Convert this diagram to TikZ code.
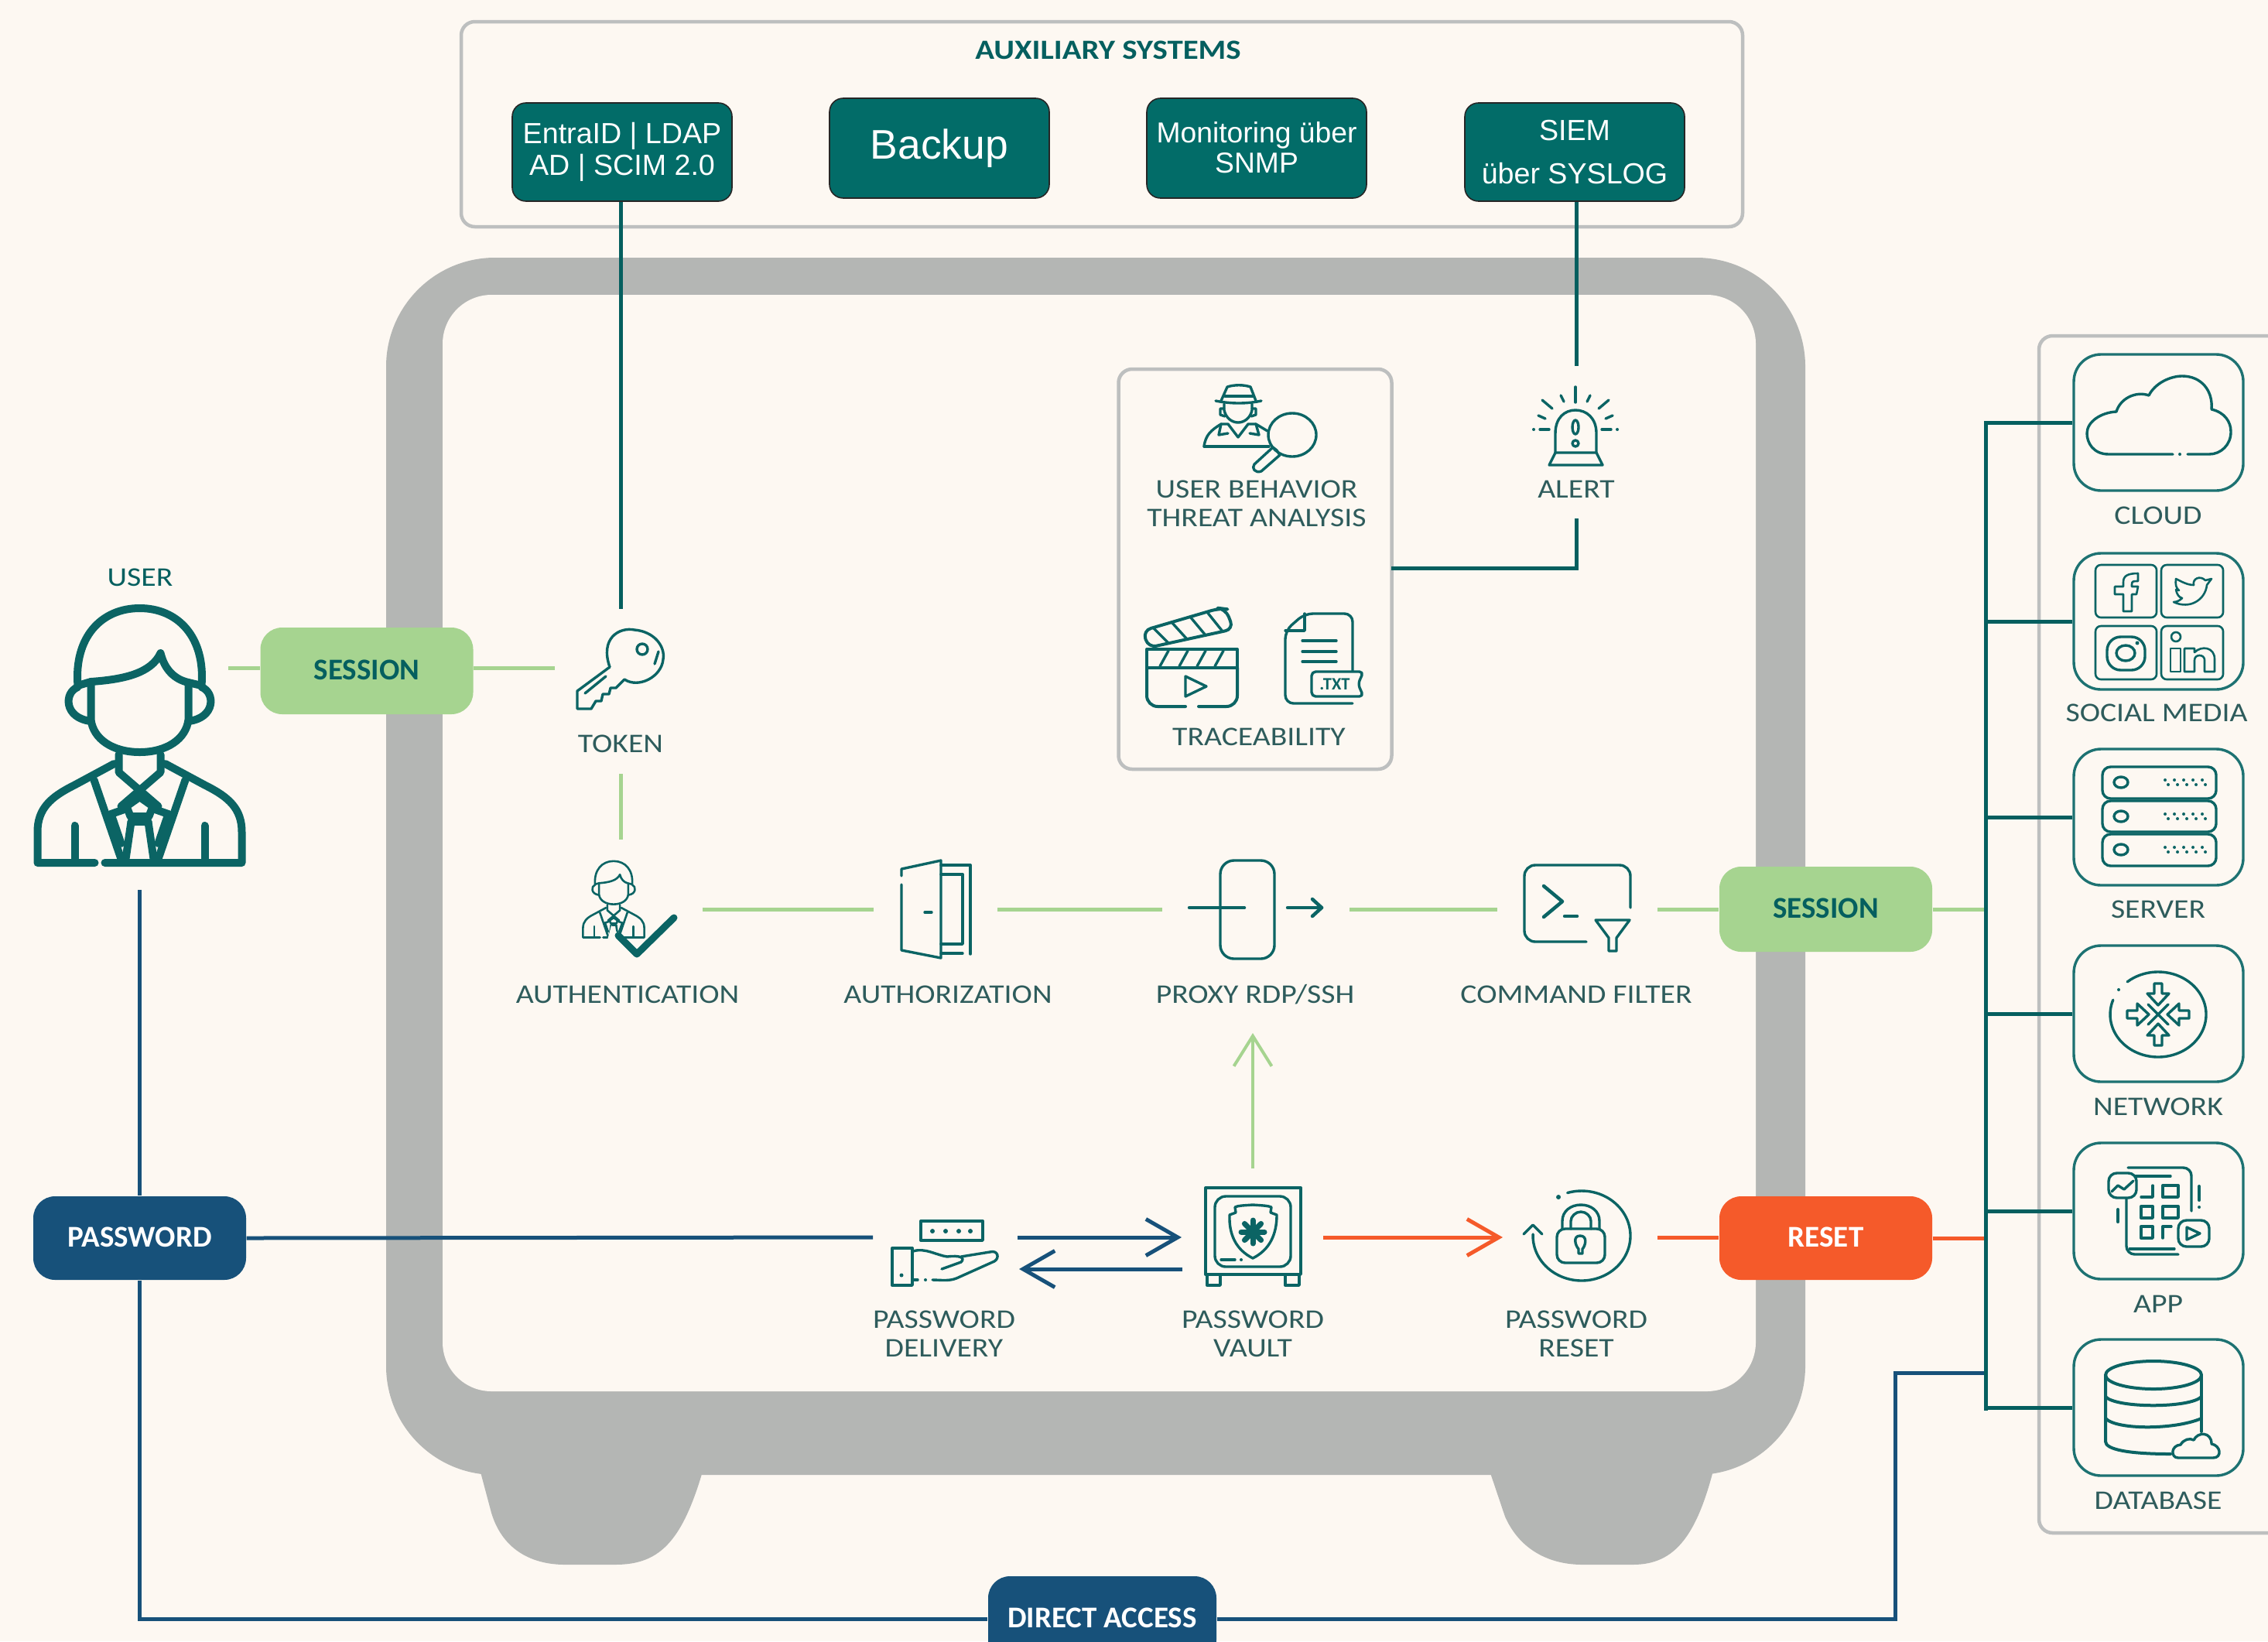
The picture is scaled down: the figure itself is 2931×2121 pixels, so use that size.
\documentclass[tikz,border=0pt]{standalone}
\usepackage{fontspec}
\setmainfont{Carlito}
\newfontfamily\arialf{Liberation Sans}
\newfontfamily\lblf[FakeStretch=1.14]{Carlito}
\usetikzlibrary{arrows.meta,calc}
\definecolor{bgc}{HTML}{FDF8F2}
\definecolor{safec}{HTML}{B4B6B4}
\definecolor{tealc}{HTML}{055F5F}
\definecolor{btnc}{HTML}{026C68}
\definecolor{iconc}{HTML}{0B6464}
\definecolor{boxc}{HTML}{1D7272}
\definecolor{greenc}{HTML}{A6D490}
\definecolor{navyc}{HTML}{17517A}
\definecolor{orangec}{HTML}{F55A2A}
\definecolor{labelc}{HTML}{2E5C5C}
\definecolor{frameC}{HTML}{BDBFBF}
\newlength\pxu \setlength\pxu{0.01cm}
\newcommand\pilltext[1]{\raisebox{3\pxu}{#1}}
\newcommand\drawperson{%
 \draw (-80,-64) .. controls (-85,-126) and (-50,-164) .. (0,-164) .. controls (50,-164) and (85,-126) .. (80,-64);
 \draw (-80,-64) -- (-63,-69) .. controls (-20,-72) and (15,-80) .. (27,-106) .. controls (32,-85) and (45,-72) .. (63,-68) -- (80,-64);
 \draw (-63,-69) -- (-63,-20) .. controls (-60,5) and (-35,22) .. (0,22) .. controls (35,22) and (60,5) .. (63,-20) -- (63,-68);
 \draw (-80,-62) .. controls (-98,-55) and (-98,-22) .. (-63,-18);
 \draw (80,-62) .. controls (98,-55) and (98,-22) .. (63,-18);
 \draw (-27,25) -- (-27,48) -- (24,92);
 \draw (27,25) -- (27,48) -- (-24,92);
 \draw (-33,37) -- (-85,65) .. controls (-115,80) and (-132,95) .. (-132,125) -- (-132,165) -- (-58,165);
 \draw (-45,165) -- (132,165) -- (132,125) .. controls (132,95) and (115,80) .. (85,65) -- (33,37);
 \draw (-59,58) -- (-24,160);
 \draw (59,58) -- (24,160);
 \draw (-84,117) -- (-84,160);
 \draw (84,117) -- (84,160);
 \draw (-17,92) -- (0,80) -- (17,92) -- (12,105) -- (-12,105) -- cycle;
 \draw (-37,102) -- (-17,95);
 \draw (37,102) -- (17,95);
 \draw (-37,102) -- (-24,140);
 \draw (37,102) -- (24,140);
 \draw (-11,112) -- (-18,160);
 \draw (11,112) -- (18,160);
 \draw (-11,112) -- (11,112);
}
\tikzset{
 x=0.01cm,y=-0.01cm,
 conn/.style={line width=5\pxu},
 tealconn/.style={conn,draw=tealc},
 greenconn/.style={conn,draw=greenc},
 navyconn/.style={conn,draw=navyc},
 orangeconn/.style={conn,draw=orangec},
 busline/.style={tealconn,line cap=rect},
 icon/.style={draw=iconc,line width=3.4\pxu,line cap=round,line join=round},
 thin icon/.style={draw=iconc,line width=2.6\pxu,line cap=round,line join=round},
 lbl/.style={inner sep=0,text=labelc,align=center,font=\lblf\fontsize{9.9}{10.5}\selectfont},
 pill/.style={inner sep=0,minimum width=275\pxu,minimum height=112\pxu,rounded corners=8pt,font=\fontsize{11.1}{12}\bfseries\selectfont},
 greenpill/.style={pill,fill=greenc,text=tealc},
 navypill/.style={pill,fill=navyc,text=white,minimum height=108\pxu},
 orangepill/.style={pill,fill=orangec,text=white,minimum height=108\pxu},
 auxbtn/.style={fill=btnc,draw=black!85,line width=1.6\pxu,text=white,inner sep=0,align=center,minimum width=284\pxu,rounded corners=5pt},
 svcbox/.style={draw=boxc,line width=3.4\pxu,inner sep=0,minimum width=219\pxu,minimum height=176\pxu,rounded corners=10pt},
 frame/.style={draw=frameC,line width=4.5\pxu},
 barb/.style={-{Straight Barb[length=11.7pt,width=13.4pt]}},
}
\begin{document}
\begin{tikzpicture}
\useasboundingbox (0,0) rectangle (2931,2121);
\clip (0,0) rectangle (2931,2121);
\fill[bgc] (0,0) rectangle (2931,2121);
% safe
\fill[safec] (615,1880) -- (635,1955) .. controls (650,2005) and (690,2022) .. (730,2022) -- (795,2022) .. controls (855,2022) and (885,1990) .. (914,1880) -- cycle;
\fill[safec] (1918,1880) -- (1945,1960) .. controls (1965,2005) and (2005,2022) .. (2045,2022) -- (2110,2022) .. controls (2165,2022) and (2195,1985) .. (2219,1880) -- cycle;
\fill[safec,rounded corners=40pt] (499,333) rectangle (2333,1906);
\fill[bgc,rounded corners=18pt] (572,381) rectangle (2269,1798);
% aux frame
\node[frame,inner sep=0,minimum width=1656\pxu,minimum height=265\pxu,rounded corners=5pt] (auxframe) at (1424,160.5) {};
\node[inner sep=0,text=tealc,font=\lblf\fontsize{10.2}{12}\bfseries\selectfont] (auxtitle) at (1432,65) {AUXILIARY SYSTEMS};
\node[auxbtn,minimum height=127\pxu,font=\arialf\fontsize{10.7}{11.7}\selectfont] (entra) at (804,196.5) {\raisebox{-2\pxu}{EntraID | LDAP}\\\raisebox{-2\pxu}{AD | SCIM 2.0}};
\node[auxbtn,minimum height=129\pxu,font=\arialf\fontsize{15.2}{17}\selectfont] (backup) at (1214,191.5) {\raisebox{-2\pxu}{Backup}};
\node[auxbtn,minimum height=129\pxu,font=\arialf\fontsize{10.6}{11.2}\selectfont] (monit) at (1624,191.5) {\raisebox{2\pxu}{Monitoring über}\\\raisebox{2\pxu}{SNMP}};
\node[auxbtn,minimum height=127\pxu,font=\arialf\fontsize{10.7}{16}\selectfont] (siem) at (2035,196.5) {SIEM\\über SYSLOG};
% trace frame
\node[frame,inner sep=0,minimum width=353\pxu,minimum height=517\pxu,rounded corners=5pt] (trace) at (1622,735.5) {};
% right frame
\node[frame,inner sep=0,minimum width=400\pxu,minimum height=1547\pxu,rounded corners=5pt] (rframe) at (2835,1207.5) {};
% coordinates
\coordinate (tokenTop) at (802,787);
\coordinate (alertTop) at (2037,473);
\coordinate (userR) at (295,863);
\coordinate (tokenL) at (717,863);
\coordinate (tokenB) at (802,1000);
\coordinate (authT) at (802,1085);
\coordinate (a1) at (908,1175); \coordinate (a2) at (1129,1175);
\coordinate (b1) at (1289,1175); \coordinate (b2) at (1502,1175);
\coordinate (c1) at (1744,1175); \coordinate (c2) at (1935,1175);
\coordinate (d1) at (2142,1175);
\coordinate (upA) at (1619,1510); \coordinate (upB) at (1619,1335);
\coordinate (userB) at (180,1150);
\coordinate (delivL) at (1128,1599);
\coordinate (p1) at (1315,1599); \coordinate (p2) at (1527,1599);
\coordinate (p3) at (1528,1640); \coordinate (p4) at (1317,1640);
\coordinate (o1) at (1710,1599); \coordinate (o2) at (1942,1599);
\coordinate (o3) at (2142,1599);
\coordinate (alertB) at (2037,670);
\coordinate (traceR) at (1798,734);
\coordinate (bus1) at (2566,546); \coordinate (bus6) at (2566,1820);
\coordinate (da) at (2449,1774);
% pills
\node[greenpill] (sessL) at (474,867) {\pilltext{SESSION}};
\node[greenpill,minimum height=110\pxu] (sessR) at (2359.5,1175) {\pilltext{SESSION}};
\node[navypill] (pwd) at (180.5,1600) {\pilltext{PASSWORD}};
\node[orangepill] (reset) at (2359.5,1600) {\pilltext{RESET}};
\node[navypill,minimum width=295\pxu,minimum height=110\pxu] (direct) at (1424.5,2092) {\pilltext{DIRECT ACCESS}};
% labels
\node[lbl,text=tealc] (ulabel) at (181,746) {USER};
\node[lbl] (ltoken) at (802,961) {TOKEN};
\node[lbl] (lauth) at (811,1285) {AUTHENTICATION};
\node[lbl] (lauthz) at (1225,1285) {AUTHORIZATION};
\node[lbl] (lproxy) at (1622,1285) {PROXY RDP/SSH};
\node[lbl] (lcmd) at (2037,1285) {COMMAND FILTER};
\node[lbl] (luba) at (1624,651) {USER BEHAVIOR\\THREAT ANALYSIS};
\node[lbl] (lalert) at (2037,632) {ALERT};
\node[lbl] (ltrace) at (1627,952) {TRACEABILITY};
\node[lbl] (ldeliv) at (1220,1724) {PASSWORD\\DELIVERY};
\node[lbl] (lvault) at (1619,1724) {PASSWORD\\VAULT};
\node[lbl] (lreset) at (2037,1724) {PASSWORD\\RESET};
% service boxes
\node[svcbox] (cloud) at (2789.5,546) {};
\node[svcbox] (social) at (2789.5,803) {};
\node[svcbox] (server) at (2789.5,1056) {};
\node[svcbox] (network) at (2789.5,1310) {};
\node[svcbox] (appbox) at (2789.5,1565) {};
\node[svcbox] (dbbox) at (2789.5,1819) {};
\node[lbl] (lcloud) at (2789,666) {CLOUD};
\node[lbl] (lsocial) at (2787,921) {SOCIAL MEDIA};
\node[lbl] (lserver) at (2789,1175) {SERVER};
\node[lbl] (lnetwork) at (2789,1430) {NETWORK};
\node[lbl] (lapp) at (2789,1685) {APP};
\node[lbl] (ldb) at (2789,1939) {DATABASE};
% connectors
\draw[tealconn] (entra.south -| tokenTop) -- (tokenTop);
\draw[tealconn] (siem.south -| alertTop) -- (alertTop);
\draw[greenconn] (userR) -- (sessL.west |- userR);
\draw[greenconn] (sessL.east |- tokenL) -- (tokenL);
\draw[greenconn] (tokenB) -- (authT);
\draw[greenconn] (a1) -- (a2);
\draw[greenconn] (b1) -- (b2);
\draw[greenconn] (c1) -- (c2);
\draw[greenconn] (d1) -- (d1 -| sessR.west);
\draw[greenconn] (sessR.east |- d1) -- (d1 -| bus1);
\draw[greenc,line width=4\pxu,-{Straight Barb[length=11.1pt,width=13.9pt]}] (upA) -- (upB);
\draw[navyconn] (userB) -- (pwd.north -| userB);
\draw[navyconn] (pwd.east) -- (delivL);
\draw[navyconn,barb] (p1) -- (p2);
\draw[navyconn,barb] (p3) -- (p4);
\draw[navyconn] (pwd.south -| userB) |- (direct.west);
\draw[navyconn] (direct.east) -| (da) -- (da -| bus1);
\draw[orangeconn,barb] (o1) -- (o2);
\draw[orangeconn] (o3) -- (o3 -| reset.west);
\draw[orangeconn] (reset.east) -- (reset.east -| bus1);
\draw[tealconn] (traceR) -| (alertB);
\draw[busline] (bus1) -- (bus6);
\foreach \b in {cloud,social,server,network,appbox,dbbox}{\draw[tealconn] (\b.west) -- (\b.west -| bus1);}
% user icon
\begin{scope}[shift={(180.5,950)},icon,line width=10\pxu]
 \drawperson
\end{scope}
% token key
\draw[icon] (788,862) .. controls (775,825) and (800,810) .. (820,814) .. controls (845,816) and (860,835) .. (857,852) .. controls (855,875) and (825,890) .. (807,878);
\draw[icon] (830,839) circle[radius=7];
\draw[icon] (851,842) -- (846,858);
\draw[icon] (788,862) -- (746,893) -- (746,916) -- (764,916) -- (770,906) -- (777,906) -- (779,897) -- (787,897) -- (789,889) -- (796,889) -- (807,878);
\draw[icon] (756,896) -- (783,874);
% auth person
\begin{scope}[shift={(793,1162)},scale=0.3,thin icon]
 \drawperson
\end{scope}
\fill[bgc] (790,1196) -- (826,1240) -- (880,1182) -- (885,1200) -- (826,1250) -- (785,1215) -- cycle;
\draw[draw=iconc,line width=9\pxu,line cap=round,line join=round] (799,1209) -- (823,1233) -- (871,1186);
% door
\draw[icon] (1165,1143) -- (1165,1228) -- (1216,1238) -- (1216,1112) -- (1165,1123) -- (1165,1132);
\draw[icon] (1216,1118) -- (1254,1118) -- (1254,1233);
\draw[icon] (1216,1130) -- (1244,1130) -- (1244,1220) -- (1216,1220);
\draw[icon] (1216,1232) -- (1244,1232);
\draw[icon] (1195,1179) -- (1204,1179);
% proxy
\draw[icon,rounded corners=5pt] (1577,1112) rectangle (1647,1239);
\draw[icon,line width=4.5\pxu] (1537,1173) -- (1608,1173);
\draw[icon,line width=4.5\pxu] (1664,1173) -- (1708,1173);
\draw[icon,line width=4.5\pxu] (1696,1162) -- (1708,1173) -- (1696,1184);
% command filter
\draw[icon,rounded corners=4pt] (2107,1173) -- (2107,1118) -- (1970,1118) -- (1970,1217) -- (2050,1217);
\draw[icon,line width=4.5\pxu] (1995,1145) -- (2019,1165) -- (1995,1185);
\draw[icon,line width=4.5\pxu] (2022,1184) -- (2038,1184);
\draw[icon] (2062,1189) -- (2106,1189) -- (2089,1212) -- (2089,1229) -- (2079,1229) -- (2079,1212) -- cycle;
% delivery
\draw[icon] (1190,1578) rectangle (1270,1603);
\foreach \x in {1205,1222,1239,1254}{\fill[iconc] (\x,1591) circle[radius=3];}
\draw[icon] (1153,1613) rectangle (1179,1661);
\fill[iconc] (1165,1648) circle[radius=2.5];
\draw[icon] (1180,1617) .. controls (1195,1612) and (1210,1622) .. (1224,1624) .. controls (1240,1622) and (1248,1625) .. (1242,1631) -- (1217,1640);
\draw[icon] (1242,1624) -- (1279,1618) .. controls (1290,1615) and (1292,1626) .. (1285,1630) -- (1236,1652) .. controls (1226,1656) and (1215,1654) .. (1205,1654);
\draw[icon] (1180,1654) -- (1186,1654);
\fill[iconc] (1196,1654) circle[radius=2];
% vault
\draw[icon] (1558,1535) rectangle (1681,1647);
\draw[icon,rounded corners=4pt] (1570,1546) rectangle (1668,1637);
\draw[icon] (1560,1647) rectangle (1577,1661);
\draw[icon] (1661,1647) rectangle (1679,1661);
\draw[icon] (1619,1557) .. controls (1605,1558) and (1600,1558) .. (1596,1560) -- (1597,1567) -- (1589,1570) .. controls (1588,1595) and (1597,1615) .. (1619,1626) .. controls (1641,1615) and (1650,1595) .. (1650,1570) -- (1642,1567) -- (1643,1560) .. controls (1638,1558) and (1633,1558) .. (1619,1557);
\foreach \a in {0,45,...,315}{\draw[draw=iconc,line width=7\pxu,line cap=round] (1619,1592) -- ++(\a:15);}
\draw[icon] (1578,1628) -- (1596,1628);
\fill[iconc] (1604,1628) circle[radius=2];
% password reset icon
\draw[icon] plot[domain=-107:182,samples=60,smooth] ({2044+63*cos(\x)},{1597+58*sin(\x)});
\fill[iconc] (2014,1547) circle[radius=3];
\draw[icon] (1969,1595) -- (1981,1583) -- (1993,1595);
\draw[icon,rounded corners=3pt] (2012,1588) rectangle (2074,1632);
\draw[icon] (2019,1588) -- (2019,1578) .. controls (2019,1565) and (2030,1557) .. (2043,1557) .. controls (2056,1557) and (2067,1565) .. (2067,1578) -- (2067,1588);
\draw[icon] (2030,1588) -- (2030,1578) .. controls (2030,1572) and (2036,1566) .. (2043,1566) .. controls (2050,1566) and (2056,1572) .. (2056,1578) -- (2056,1588);
\draw[icon] (2042,1597) .. controls (2032,1597) and (2036,1610) .. (2040,1614) -- (2040,1620) -- (2045,1620) -- (2045,1614) .. controls (2049,1610) and (2052,1597) .. (2042,1597);
% alert icon
\draw[icon] (2010,585) -- (2010,560) .. controls (2010,540) and (2022,530) .. (2036,530) .. controls (2050,530) and (2063,540) .. (2063,560) -- (2063,585);
\draw[icon] (2010,585) -- (2063,585) -- (2071,601) -- (2002,601) -- cycle;
\draw[icon] (2036,552) ellipse[x radius=4,y radius=9];
\draw[icon] (2036,573) circle[radius=4];
\draw[icon] (2036,500) -- (2036,520);
\draw[icon] (2017,511) -- (2021,519);
\draw[icon] (2055,511) -- (2051,519);
\draw[icon] (1993,517) -- (2006,528);
\draw[icon] (2079,517) -- (2066,528);
\draw[icon] (1988,537) -- (1997,541);
\draw[icon] (2084,537) -- (2075,541);
\draw[icon] (1990,555) -- (2002,555);
\draw[icon] (2082,555) -- (2070,555);
\fill[iconc] (1982,555) circle[radius=2];
\fill[iconc] (2090,555) circle[radius=2];
% detective
\draw[icon] (1571,518) .. controls (1590,522) and (1612,522) .. (1630,518);
\draw[icon] (1578,518) -- (1586,500) .. controls (1595,497) and (1607,497) .. (1616,500) -- (1623,518);
\draw[icon] (1583,512) -- (1620,512);
\draw[icon] (1582,522) -- (1582,530) .. controls (1584,540) and (1592,546) .. (1600,546) .. controls (1608,546) and (1616,540) .. (1618,530) -- (1618,522);
\draw[icon] (1582,528) -- (1577,528) -- (1577,536) -- (1583,538);
\draw[icon] (1618,528) -- (1623,528) -- (1623,536) -- (1617,538);
\draw[icon] (1556,577) .. controls (1558,562) and (1565,556) .. (1578,548) -- (1587,548) -- (1600,565) -- (1613,548) -- (1623,548) -- (1638,557);
\draw[icon] (1556,577) -- (1640,577);
\draw[icon] (1578,548) -- (1575,562) -- (1587,560);
\draw[icon] (1623,548) -- (1627,562) -- (1615,560);
\draw[icon] (1670,562) ellipse[x radius=31,y radius=28];
\draw[icon] (1650,582) -- (1654,588) -- (1630,609) .. controls (1622,612) and (1617,605) .. (1621,600) -- (1645,578) -- (1650,582);
% clapperboard
\draw[icon,line width=4\pxu,rounded corners=3pt] (1484,837) -- (1477,815) -- (1576,786) -- (1584,787) -- (1594,813) -- cycle;
\foreach \a/\aa/\b/\bb in {1490/811/1510/831,1514/804/1534/826,1538/797/1558/821,1560/791/1580/816}{\draw[icon] (\a,\aa) -- (\b,\bb);}
\draw[icon,line width=4\pxu] (1482,839) -- (1599,839) -- (1599,863) -- (1482,863) -- cycle;
\foreach \a in {1510,1535,1558,1581}{\draw[icon] (\a,841) -- (\a-11,861);}
\draw[icon,line width=4\pxu,rounded corners=4pt] (1532,913) -- (1482,913) -- (1482,863);
\draw[icon,line width=4\pxu,rounded corners=4pt] (1549,913) -- (1599,913) -- (1599,863);
\draw[icon] (1532,874) -- (1559,887) -- (1532,900) -- cycle;
% txt doc
\draw[icon,rounded corners=3pt] (1748,868) -- (1748,793) -- (1686,793) -- (1661,815) -- (1661,909) -- (1748,909);
\draw[icon] (1686,793) -- (1686,815) -- (1661,815);
\foreach \y in {828,842,855}{\draw[icon] (1683,\y) -- (1727,\y);}
\draw[icon,fill=bgc,rounded corners=1.5pt] (1695,868) -- (1762,868) -- (1755,884) -- (1762,900) -- (1695,900) -- cycle;
\node[inner sep=0,text=iconc,font=\fontsize{6.4}{7}\bfseries\selectfont] (txtlabel) at (1725,884) {.TXT};
% cloud
\draw[icon] (2808,587) -- (2725,587) .. controls (2705,587) and (2697,572) .. (2697,560) .. controls (2697,545) and (2715,533) .. (2735,532) .. controls (2740,515) and (2760,505) .. (2777,511) .. controls (2785,495) and (2805,486) .. (2820,486) .. controls (2845,486) and (2860,505) .. (2858,529) .. controls (2875,533) and (2883,545) .. (2883,558) .. controls (2883,575) and (2870,587) .. (2855,587) -- (2827,587);
\fill[iconc] (2817,587) circle[radius=2];
% social
\foreach \x/\xx in {2708/2787,2793/2873}{\foreach \y/\yy in {730/798,809/878}{\draw[thin icon,rounded corners=2pt] (\x,\y) rectangle (\xx,\yy);}}
\draw[thin icon] (2744,790) -- (2744,768) -- (2733,768) -- (2733,758) -- (2744,758) -- (2744,752) .. controls (2744,744) and (2750,741) .. (2763,741) -- (2763,751) .. controls (2757,751) and (2755,751) .. (2755,755) -- (2755,758) -- (2763,758) -- (2761,768) -- (2755,768) -- (2755,790) -- cycle;
\draw[thin icon] (2809,778) .. controls (2830,788) and (2850,775) .. (2852,756) -- (2858,748) -- (2850,750) .. controls (2843,743) and (2833,748) .. (2835,756) .. controls (2827,756) and (2820,752) .. (2812,748) .. controls (2811,755) and (2812,760) .. (2816,763) -- (2812,762) .. controls (2813,768) and (2816,772) .. (2820,773) .. controls (2817,776) and (2813,778) .. (2809,778);
\draw[icon,rounded corners=5pt] (2723,823) rectangle (2772,866);
\draw[icon] (2747,844) ellipse[x radius=12,y radius=10];
\fill[iconc] (2762,831) circle[radius=2.5];
\draw[thin icon] (2805,838) rectangle (2818,868);
\draw[thin icon] (2812,823) circle[radius=6];
\draw[thin icon] (2823,868) -- (2823,838) -- (2836,838) -- (2836,843) .. controls (2845,834) and (2862,836) .. (2862,852) -- (2862,868) -- (2849,868) -- (2849,853) .. controls (2849,845) and (2836,845) .. (2836,853) -- (2836,868) -- cycle;
% server
\foreach \a/\b in {991/1032,1035/1075,1078/1119}{\draw[icon,rounded corners=3pt] (2717,\a) rectangle (2864,\b);}
\foreach \y in {1011,1055,1098}{
 \draw[icon] (2741,\y) ellipse[x radius=9,y radius=7];
 \foreach \x in {2798,2810,2822,2834,2846}{\fill[iconc] (\x,\y-3) circle[radius=2];\fill[iconc] (\x+4,\y+3) circle[radius=2];}
}
% network
\draw[icon] plot[domain=-130:200,samples=70,smooth] ({2789+62*cos(\x)},{1311+55*sin(\x)});
\fill[iconc] (2738,1279) circle[radius=2];
\foreach \r in {0,90,180,270}{
 \begin{scope}[shift={(2789,1311)},rotate=\r]
  \draw[icon] (-5,-40) -- (5,-40) -- (5,-27) -- (14,-27) -- (0,-12) -- (-14,-27) -- (-5,-27) -- cycle;
 \end{scope}
}
\draw[icon] (2776,1298) -- (2802,1324);
\draw[icon] (2776,1324) -- (2802,1298);
% app
\draw[icon,rounded corners=3pt] (2748,1538) -- (2748,1621) -- (2815,1621);
\draw[icon,rounded corners=3pt] (2750,1509) -- (2832,1509) -- (2832,1565);
\draw[icon] (2760,1520) -- (2805,1520);
\draw[icon] (2752,1614) -- (2810,1614);
\draw[icon,rounded corners=3pt,fill=bgc] (2725,1516) rectangle (2761,1548);
\draw[icon] (2729,1540) -- (2737,1532) -- (2745,1537) -- (2757,1526);
\draw[icon] (2767,1547) -- (2782,1547) -- (2782,1532);
\draw[icon] (2795,1532) rectangle (2815,1547);
\draw[icon] (2767,1559) rectangle (2782,1574);
\draw[icon] (2795,1559) rectangle (2815,1574);
\draw[icon] (2767,1585) rectangle (2782,1600);
\draw[icon] (2795,1600) -- (2795,1585) -- (2806,1585);
\draw[icon,rounded corners=3pt,fill=bgc] (2815,1577) rectangle (2855,1611);
\draw[icon] (2826,1586) -- (2843,1594) -- (2826,1602) -- cycle;
\draw[icon,line width=4\pxu] (2842,1533) -- (2842,1551);
\fill[iconc] (2842,1560) circle[radius=2];
\draw[icon,line width=4\pxu] (2737,1563) -- (2737,1579);
% database
\draw[icon,line width=4\pxu] (2783,1777) ellipse[x radius=62,y radius=18];
\draw[icon,line width=4\pxu] (2721,1777) -- (2721,1863) .. controls (2721,1873) and (2750,1879) .. (2805,1879);
\draw[icon,line width=4\pxu] (2845,1777) -- (2845,1850);
\draw[icon,line width=4\pxu] (2721,1805) .. controls (2735,1820) and (2830,1820) .. (2845,1805);
\draw[icon,line width=4\pxu] (2721,1833) .. controls (2735,1848) and (2810,1848) .. (2845,1833);
\draw[icon,line width=3.4\pxu,fill=bgc] (2815,1884) .. controls (2805,1884) and (2805,1868) .. (2818,1867) .. controls (2822,1860) and (2830,1858) .. (2835,1861) .. controls (2840,1850) and (2858,1850) .. (2858,1866) .. controls (2870,1868) and (2872,1884) .. (2860,1884) -- cycle;
\end{tikzpicture}
\end{document}
